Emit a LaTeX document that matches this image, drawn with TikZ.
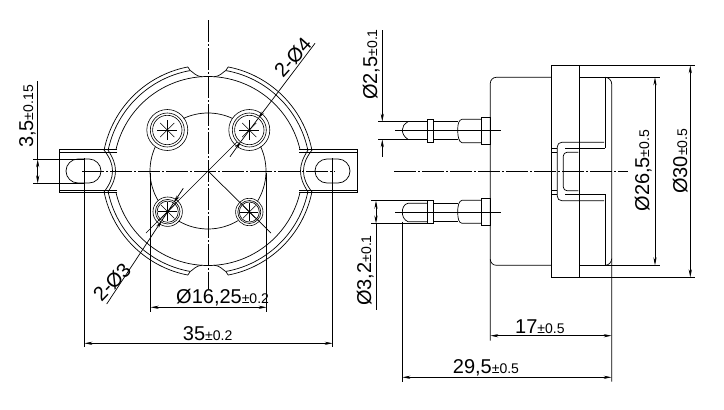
\documentclass[tikz,border=0pt]{standalone}
\usepackage{fontspec}
\setmainfont{Liberation Sans}
\usetikzlibrary{arrows.meta}

\newcommand{\tol}[2]{{\fontsize{20}{20}\selectfont #1}{\fontsize{14}{14}\selectfont ±#2}}

\tikzset{
    outline/.style={line width=0.7pt},
    centerline/.style={line width=0.7pt, dash pattern=on 22pt off 2pt on 2pt off 2pt},
    dimline/.style={line width=0.7pt, >={Stealth[length=8pt,width=3.2pt]}},
    dimtext/.style={inner sep=0pt, anchor=base west},
}

\begin{document}
\begin{tikzpicture}[x=1pt, y=-1pt]
        \useasboundingbox (0,0) rectangle (724,410);

        % front view, one quarter mirrored four times
        \foreach \sx in {1,-1} {
            \foreach \sy in {1,-1} {
                \begin{scope}[shift={(208,171)}, xscale=\sx, yscale=\sy, outline]
                    \draw (11.4:106) arc[start angle=11.4, end angle=79, radius=106] -- (80:102);
                    \draw (11.9:102) arc[start angle=11.9, end angle=80, radius=102];
                    \draw (12.9:94.5) arc[start angle=12.9, end angle=90, radius=94.5];
                    \draw (80:102) .. controls (15,99) and (12,94.5) .. (6,94.2);
                    % tab and slot
                    \draw (91,21.5) -- (149,21.5) -- (149,0);
                    \draw (91,19) -- (149,19);
                    \draw (104,21) .. controls (98,13) and (95.5,7) .. (95.5,0);
                    \draw (100,21) .. controls (95,13) and (92.5,7) .. (92.5,0);
                    \draw (107,0) arc[start angle=180, end angle=270, radius=12] -- (130,-12) arc[start angle=270, end angle=360, radius=12];
                \end{scope}
            }
        }

        % circle through the holes
        \begin{scope}[shift={(208,171)}, outline]
            \draw (245:58) arc[start angle=245, end angle=295, radius=58];
            \draw (-25:58) arc[start angle=-25, end angle=31.3, radius=58];
            \draw (58.7:58) arc[start angle=58.7, end angle=120.4, radius=58];
            \draw (149.6:58) arc[start angle=149.6, end angle=205, radius=58];
        \end{scope}

        % holes
        \foreach \hx/\hy/\ra/\rb/\rc/\rs in {167.3/130/20.5/17/14.7/10, 249.3/130/20.5/17/14.7/10, 167.7/211.7/14.7/12.3/10.6/9.5, 249.3/212/13.7/11.5/10/9} {
            \draw[line width=0.6pt] (\hx,\hy) circle (\ra) (\hx,\hy) circle (\rb) (\hx,\hy) circle (\rc);
            \foreach \a in {0,45,...,315} {
                \draw[line width=0.5pt] (\hx,\hy) -- +(\a:\rs);
            }
        }

        % center lines of the front view
        \draw[centerline] (208,20) -- (208,289);
        \draw[centerline] (82,171) -- (335,171);
        \draw[outline] (208,171) -- (146,233);
        \draw[outline] (208,171) -- (271,233);
        \draw[outline] (208,171) -- (237,142);

        % dimensions of the front view
        \draw[outline] (33.3,159.3) -- (84,159.3);
        \draw[outline] (33.3,183.3) -- (84,183.3);
        \draw[dimline] (37.7,81) -- (37.7,159.3);
        \draw[dimline,<->] (37.7,159.3) -- (37.7,183.3);
        \node[dimtext, rotate=90] (tabgap) at (33,148) {\tol{3,5}{0.15}};

        \draw[outline] (150.7,173) -- (150.7,312);
        \draw[outline] (266.7,173) -- (266.7,312);
        \draw[dimline,<->] (150.7,307.3) -- (266.7,307.3);
        \node[dimtext] (pitch) at (176,303) {\tol{Ø16,25}{0.2}};

        \draw[outline] (84.4,158) -- (84.4,347);
        \draw[outline] (332.7,158) -- (332.7,347);
        \draw[dimline,<->] (84.4,343.3) -- (332.7,343.3);
        \node[dimtext] (span) at (182.7,340.7) {\tol{35}{0.2}};

        \draw[dimline,->] (315,43.3) -- (257.9,118.8);
        \draw[dimline,->] (230,156.7) -- (241.1,141.2);
        \draw[outline] (241.1,141.2) -- (257.9,118.8);
        \node[inner sep=0pt, anchor=base, rotate=48] (bighole) at (298,62) {\fontsize{20}{20}\selectfont 2-Ø4};

        \draw[dimline,->] (183.3,188.3) -- (173.5,203);
        \draw[dimline,->] (106.7,304) -- (161.9,220.4);
        \draw[outline] (173.5,203) -- (161.9,220.4);
        \node[inner sep=0pt, anchor=base, rotate=46] (smallhole) at (117,287) {\fontsize{20}{20}\selectfont 2-Ø3};

        % body of the side view
        \draw[outline] (551.3,77.3) -- (496.3,77.3) arc[start angle=270, end angle=180, radius=6] -- (490.3,340.7);
        \draw[outline] (551.3,265.3) -- (496.3,265.3) arc[start angle=90, end angle=180, radius=6];
        \draw[outline] (551.3,65.3) rectangle (579.3,277.3);
        \draw[outline] (605,77.3) arc[start angle=270, end angle=360, radius=6.7] -- (611.7,381.7);
        \draw[outline] (605,265.3) arc[start angle=90, end angle=0, radius=6.7];
        \draw[outline] (605,77.3) -- (605,148.3);
        \draw[outline] (605,194.3) -- (605,265.3);

        % bracket in the body
        \draw[outline] (604,142.3) -- (561.7,142.3) arc[start angle=270, end angle=180, radius=4.4] -- (557.3,196.3) arc[start angle=180, end angle=90, radius=4.4] -- (604,200.7);
        \draw[outline] (578.3,152.3) -- (567,152.3) arc[start angle=270, end angle=180, radius=3.7] -- (563.3,187) arc[start angle=180, end angle=90, radius=3.7] -- (578.3,190.7);
        \draw[outline] (565,148.3) -- (605,148.3);
        \draw[outline] (565,194.3) -- (605,194.3);
        \draw[outline] (551.3,148.3) -- (557.3,148.3);
        \draw[outline] (551.3,152.3) -- (557.3,152.3);
        \draw[outline] (551.3,190.7) -- (557.3,190.7);
        \draw[outline] (551.3,194.3) -- (557.3,194.3);

        % upper pin
        \begin{scope}[outline]
            \draw (378,121.7) -- (427.3,121.7);
            \draw (378,139.3) -- (427.3,139.3);
            \draw (408,121.7) .. controls (404,124) and (402.3,127) .. (402.3,130) .. controls (402.3,133) and (404,137) .. (408,139.3);
            \draw (427.3,119.3) rectangle (433.6,142.7);
            \draw (433.6,121.5) -- (457.7,121.5) (433.6,139.3) -- (457.7,139.3);
            \draw (481.3,119.3) -- (462,119.3) .. controls (459,120) and (457.7,123) .. (457.7,130) .. controls (457.7,137) and (459,142) .. (462,142.7) -- (481.3,142.7);
            \draw (481.3,117.3) rectangle (490.3,144.3);
        \end{scope}
        \draw[outline] (395,130) -- (501,130);

        % lower pin
        \begin{scope}[outline]
            \draw (371,200.7) -- (427.3,200.7);
            \draw (371,223.5) -- (427.3,223.5);
            \draw (427.3,203.3) -- (408,203.3) .. controls (404,204) and (402.3,208) .. (402.3,212.3) .. controls (402.3,216) and (404,220) .. (408,221.7) -- (427.3,221.7);
            \draw (427.3,200) rectangle (433.6,223.5);
            \draw (433.6,203.3) -- (457.7,203.3) (433.6,221.7) -- (457.7,221.7);
            \draw (481.3,200.3) -- (462,200.3) .. controls (459,201) and (457.7,205) .. (457.7,212.3) .. controls (457.7,219) and (459,223) .. (462,223.3) -- (481.3,223.3);
            \draw (481.3,198.3) rectangle (490.3,225.3);
        \end{scope}
        \draw[outline] (395,212.3) -- (501,212.3);

        \draw[centerline] (394,171) -- (628,171);

        % dimensions of the side view
        \draw[dimline,->] (382.3,30) -- (382.3,121.7);
        \draw[dimline,->] (382.3,156.7) -- (382.3,139.3);
        \node[dimtext, rotate=90] (thinpin) at (377,100) {\tol{Ø2,5}{0.1}};

        \draw[dimline,<->] (376,200.7) -- (376,223.5);
        \draw[outline] (376,223.5) -- (376,310);
        \node[dimtext, rotate=90] (thickpin) at (371,306) {\tol{Ø3,2}{0.1}};

        \draw[outline] (579.3,77.3) -- (660,77.3);
        \draw[outline] (579.3,265.3) -- (660,265.3);
        \draw[dimline,<->] (655,77.3) -- (655,265.3);
        \node[dimtext, rotate=90] (bodydia) at (649,211.7) {\tol{Ø26,5}{0.5}};

        \draw[outline] (579.3,65.3) -- (695,65.3);
        \draw[outline] (579.3,277.3) -- (695,277.3);
        \draw[dimline,<->] (690.3,65.3) -- (690.3,277.3);
        \node[dimtext, rotate=90] (flangedia) at (687,194) {\tol{Ø30}{0.5}};

        \draw[dimline,<->] (490.3,335.7) -- (611.7,335.7);
        \node[dimtext] (bodylen) at (515,333.3) {\tol{17}{0.5}};

        \draw[outline] (402.3,221.7) -- (402.3,381.7);
        \draw[dimline,<->] (402.3,377.3) -- (611.7,377.3);
        \node[dimtext] (totallen) at (452.7,373.3) {\tol{29,5}{0.5}};

    \end{tikzpicture}
\end{document}
